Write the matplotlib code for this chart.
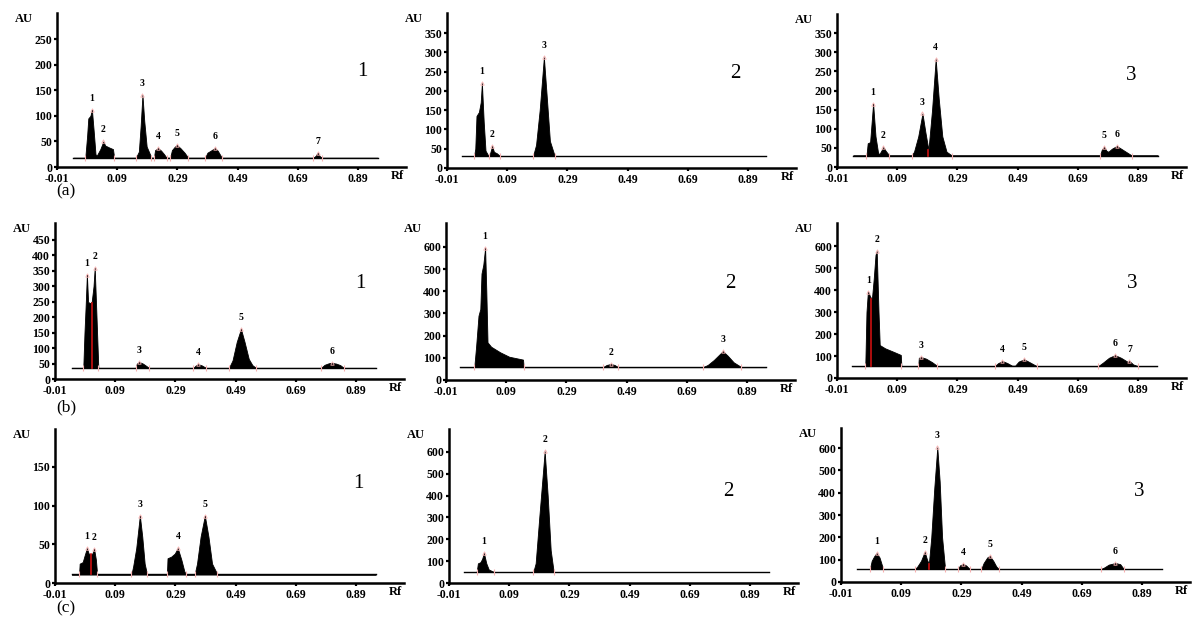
import matplotlib
matplotlib.use('Agg')
import matplotlib.pyplot as plt

plt.rcParams['font.family'] = ['Liberation Serif', 'DejaVu Serif']
plt.rcParams['font.weight'] = 'bold'

# ---------------- data ----------------
X_TICK_LABELS = ['-0.01', '0.09', '0.29', '0.49', '0.69', '0.89']
ROW_LABELS = ['(a)', '(b)', '(c)']
PANEL_NAMES = ['1', '2', '3']

# (a)1
A1_BASE = 18
A1_RANGE = [0.27, 5.33]
A1_X = [0.47, 0.50, 0.52, 0.555, 0.58, 0.61, 0.64, 0.66, 0.72, 0.77, 0.80, 0.87, 0.93, 0.95,
        1.31, 1.36, 1.39, 1.42, 1.45, 1.49, 1.57,
        1.61, 1.63, 1.68, 1.73, 1.78, 1.82,
        1.88, 1.91, 1.96, 1.99, 2.05, 2.12, 2.18,
        2.46, 2.50, 2.57, 2.62, 2.67, 2.74,
        4.26, 4.30, 4.33, 4.36, 4.40]
A1_Y = [18, 60, 95, 100, 112, 70, 25, 22, 35, 50, 42, 38, 35, 18,
        18, 30, 80, 141, 90, 40, 18,
        18, 33, 37, 32, 25, 18,
        18, 33, 40, 43, 37, 28, 18,
        18, 28, 33, 37, 32, 18,
        18, 22, 28, 22, 18]
A1_PEAK_X = [0.58, 0.77, 1.42, 1.68, 1.99, 2.62, 4.33]
A1_PEAK_Y = [112, 50, 141, 37, 43, 37, 28]
A1_SPLIT_X, A1_SPLIT_Y = [], []
A1_YTICKS = [0, 50, 100, 150, 200, 250]
A1_YMAX = 301

# (a)2
A2_BASE = 31
A2_RANGE = [0.25, 5.30]
A2_X = [0.45, 0.47, 0.49, 0.53, 0.56, 0.58, 0.61, 0.64, 0.69, 0.71, 0.75, 0.78, 0.83, 0.88,
        1.43, 1.48, 1.54, 1.61, 1.66, 1.71, 1.79]
A2_Y = [31, 50, 135, 145, 170, 220, 120, 45, 31, 35, 57, 42, 38, 31,
        31, 60, 150, 287, 180, 70, 31]
A2_PEAK_X = [0.58, 0.75, 1.61]
A2_PEAK_Y = [220, 57, 287]
A2_SPLIT_X, A2_SPLIT_Y = [], []
A2_YTICKS = [0, 50, 100, 150, 200, 250, 300, 350]
A2_YMAX = 402

# (a)3
A3_BASE = 30
A3_RANGE = [0.27, 5.33]
A3_X = [0.49, 0.51, 0.55, 0.60, 0.64, 0.68, 0.70, 0.72, 0.77, 0.81, 0.87,
        1.24, 1.28, 1.35, 1.42, 1.47, 1.52, 1.58, 1.64, 1.69, 1.75, 1.82, 1.91,
        4.37, 4.40, 4.44, 4.48, 4.51, 4.57, 4.65, 4.72, 4.80, 4.90]
A3_Y = [30, 62, 65, 166, 80, 40, 32, 38, 52, 42, 30,
        30, 40, 80, 140, 90, 45, 150, 282, 180, 80, 40, 30,
        30, 45, 52, 42, 40, 48, 55, 48, 40, 30]
A3_PEAK_X = [0.60, 0.77, 1.42, 1.64, 4.44, 4.65]
A3_PEAK_Y = [166, 52, 140, 282, 52, 55]
A3_SPLIT_X, A3_SPLIT_Y = [1.52], [45]
A3_YTICKS = [0, 50, 100, 150, 200, 250, 300, 350]
A3_YMAX = 400

# (b)1
B1_BASE = 36
B1_RANGE = [0.28, 5.33]
B1_X = [0.47, 0.49, 0.51, 0.53, 0.55, 0.58, 0.61, 0.64, 0.66, 0.69, 0.72,
        1.34, 1.36, 1.40, 1.46, 1.52, 1.56,
        2.30, 2.34, 2.38, 2.44, 2.51,
        2.89, 2.95, 3.02, 3.09, 3.15, 3.22, 3.28, 3.34,
        4.42, 4.48, 4.55, 4.60, 4.67, 4.74, 4.80]
B1_Y = [36, 150, 240, 338, 250, 245, 250, 300, 360, 200, 36,
        36, 50, 55, 50, 42, 36,
        36, 44, 48, 44, 36,
        36, 60, 120, 162, 120, 65, 45, 36,
        36, 46, 51, 52, 50, 45, 36]
B1_PEAK_X = [0.53, 0.66, 1.40, 2.38, 3.09, 4.60]
B1_PEAK_Y = [338, 360, 55, 48, 162, 52]
B1_SPLIT_X, B1_SPLIT_Y = [0.62], [245]
B1_YTICKS = [0, 50, 100, 150, 200, 250, 300, 350, 400, 450]
B1_YMAX = 505

# (b)2
B2_BASE = 58
B2_RANGE = [0.23, 5.32]
B2_X = [0.47, 0.50, 0.54, 0.57, 0.59, 0.62, 0.65, 0.67, 0.69, 0.75, 0.90, 1.05, 1.28, 1.29,
        2.61, 2.67, 2.74, 2.80, 2.86,
        4.27, 4.35, 4.45, 4.60, 4.68, 4.78, 4.91]
B2_Y = [58, 150, 290, 320, 480, 520, 595, 400, 170, 150, 125, 105, 92, 58,
        58, 68, 72, 68, 58,
        58, 68, 90, 130, 110, 80, 58]
B2_PEAK_X = [0.65, 2.74, 4.60]
B2_PEAK_Y = [595, 72, 130]
B2_SPLIT_X, B2_SPLIT_Y = [], []
B2_YTICKS = [0, 100, 200, 300, 400, 500, 600]
B2_YMAX = 708

# (b)3
B3_BASE = 54
B3_RANGE = [0.25, 5.32]
B3_X = [0.47, 0.49, 0.51, 0.52, 0.55, 0.58, 0.61, 0.64, 0.66, 0.69, 0.71, 0.80, 0.95, 1.06, 1.07,
        1.35, 1.36, 1.40, 1.48, 1.58, 1.67,
        2.62, 2.68, 2.75, 2.83, 2.91,
        2.96, 3.02, 3.11, 3.20, 3.32,
        4.34, 4.42, 4.52, 4.62, 4.72, 4.84, 4.86, 4.92, 5.00]
B3_Y = [54, 300, 380, 392, 370, 360, 450, 560, 577, 300, 150, 135, 118, 105, 54,
        54, 92, 95, 88, 72, 54,
        54, 68, 77, 68, 56,
        56, 75, 85, 72, 54,
        54, 70, 92, 104, 92, 72, 78, 62, 54]
B3_PEAK_X = [0.52, 0.66, 1.40, 2.75, 3.11, 4.62, 4.86]
B3_PEAK_Y = [392, 577, 95, 77, 85, 104, 78]
B3_SPLIT_X, B3_SPLIT_Y = [0.57], [360]
B3_YTICKS = [0, 100, 200, 300, 400, 500, 600]
B3_YMAX = 705

# (c)1
C1_BASE = 11
C1_RANGE = [0.28, 5.33]
C1_X = [0.40, 0.41, 0.46, 0.49, 0.53, 0.56, 0.59, 0.62, 0.65, 0.68, 0.70,
        1.27, 1.30, 1.35, 1.41, 1.45, 1.49, 1.53,
        1.86, 1.87, 1.93, 1.99, 2.04, 2.10, 2.15, 2.18,
        2.32, 2.36, 2.42, 2.49, 2.55, 2.61, 2.70]
C1_Y = [11, 25, 27, 35, 45, 38, 37, 38, 44, 30, 11,
        11, 22, 45, 87, 60, 25, 11,
        11, 32, 34, 38, 45, 30, 15, 11,
        11, 25, 60, 87, 60, 25, 11]
C1_PEAK_X = [0.53, 0.65, 1.41, 2.04, 2.49]
C1_PEAK_Y = [45, 44, 87, 45, 87]
C1_SPLIT_X, C1_SPLIT_Y = [0.59], [37]
C1_YTICKS = [0, 50, 100, 150]
C1_YMAX = 199

# (c)2
C2_BASE = 50
C2_RANGE = [0.25, 5.32]
C2_X = [0.46, 0.48, 0.52, 0.55, 0.58, 0.62, 0.66, 0.75,
        1.40, 1.44, 1.50, 1.59, 1.64, 1.69, 1.74]
C2_Y = [50, 90, 95, 110, 137, 90, 62, 50,
        50, 90, 300, 603, 400, 150, 50]
C2_PEAK_X = [0.58, 1.59]
C2_PEAK_Y = [137, 603]
C2_SPLIT_X, C2_SPLIT_Y = [], []
C2_YTICKS = [0, 100, 200, 300, 400, 500, 600]
C2_YMAX = 705

# (c)3
C3_BASE = 58
C3_RANGE = [0.27, 5.33]
C3_X = [0.48, 0.51, 0.55, 0.59, 0.64, 0.70,
        1.23, 1.27, 1.33, 1.39, 1.43, 1.46, 1.50, 1.55, 1.60, 1.64, 1.68, 1.73,
        1.94, 1.98, 2.03, 2.08, 2.14,
        2.33, 2.37, 2.43, 2.47, 2.53, 2.58, 2.62,
        4.32, 4.38, 4.45, 4.56, 4.64, 4.70]
C3_Y = [58, 95, 115, 130, 110, 58,
        58, 70, 95, 135, 100, 80, 200, 420, 603, 450, 200, 58,
        58, 75, 81, 74, 58,
        58, 85, 110, 117, 95, 70, 58,
        58, 66, 78, 85, 80, 58]
C3_PEAK_X = [0.59, 1.39, 1.60, 2.03, 2.47, 4.56]
C3_PEAK_Y = [130, 135, 603, 81, 117, 85]
C3_SPLIT_X, C3_SPLIT_Y = [1.46], [80]
C3_YTICKS = [0, 100, 200, 300, 400, 500, 600]
C3_YMAX = 690

# ---------------- layout (pixels in a 1200x631 canvas) ----------------
W, H = 1200, 631
AX_W = 349
# left, x-axis row, top
LAYOUT = [
    (57, 167, 13), (447, 168, 13), (837, 167, 14),
    (55, 379, 223), (446, 380, 223), (837, 378, 223),
    (55, 583, 429), (449, 583, 429), (841, 582, 428),
]
NAME_POS = [(362, 72), (735, 73), (1131, 76),
            (360, 283), (730, 283), (1132, 284),
            (358, 483), (728, 491), (1139, 492)]
ROW_LABEL_POS = [(66, 191), (66, 407), (66, 608)]

panels = [
    (A1_BASE, A1_RANGE, A1_X, A1_Y, A1_PEAK_X, A1_PEAK_Y, A1_SPLIT_X, A1_SPLIT_Y, A1_YTICKS, A1_YMAX),
    (A2_BASE, A2_RANGE, A2_X, A2_Y, A2_PEAK_X, A2_PEAK_Y, A2_SPLIT_X, A2_SPLIT_Y, A2_YTICKS, A2_YMAX),
    (A3_BASE, A3_RANGE, A3_X, A3_Y, A3_PEAK_X, A3_PEAK_Y, A3_SPLIT_X, A3_SPLIT_Y, A3_YTICKS, A3_YMAX),
    (B1_BASE, B1_RANGE, B1_X, B1_Y, B1_PEAK_X, B1_PEAK_Y, B1_SPLIT_X, B1_SPLIT_Y, B1_YTICKS, B1_YMAX),
    (B2_BASE, B2_RANGE, B2_X, B2_Y, B2_PEAK_X, B2_PEAK_Y, B2_SPLIT_X, B2_SPLIT_Y, B2_YTICKS, B2_YMAX),
    (B3_BASE, B3_RANGE, B3_X, B3_Y, B3_PEAK_X, B3_PEAK_Y, B3_SPLIT_X, B3_SPLIT_Y, B3_YTICKS, B3_YMAX),
    (C1_BASE, C1_RANGE, C1_X, C1_Y, C1_PEAK_X, C1_PEAK_Y, C1_SPLIT_X, C1_SPLIT_Y, C1_YTICKS, C1_YMAX),
    (C2_BASE, C2_RANGE, C2_X, C2_Y, C2_PEAK_X, C2_PEAK_Y, C2_SPLIT_X, C2_SPLIT_Y, C2_YTICKS, C2_YMAX),
    (C3_BASE, C3_RANGE, C3_X, C3_Y, C3_PEAK_X, C3_PEAK_Y, C3_SPLIT_X, C3_SPLIT_Y, C3_YTICKS, C3_YMAX),
]

fig = plt.figure(figsize=(W / 100, H / 100), dpi=100)
fig.patch.set_facecolor('white')

PINK = '#f4b0b0'

for i, (base, rng, xs, ys, pxs, pys, sxs, sys_, yticks, ymax) in enumerate(panels):
    L, B, T = LAYOUT[i]
    ax = fig.add_axes([L / W, 1 - B / H, AX_W / W, (B - T) / H])
    fx = [rng[0]] + xs + [rng[1]]
    fy = [base] + ys + [base]
    ax.fill_between(fx, base, fy, color='black', edgecolor='black', linewidth=0.6, zorder=2)
    ax.plot(rng, [base, base], color='black', lw=1.0, zorder=3)
    # peak boundary markers on the baseline
    bx = [x for x, y in zip(xs, ys) if y == base]
    ax.plot(bx, [base] * len(bx), ls='none', marker='|', ms=4, mew=0.8, color=PINK, zorder=4)
    # red splitting lines
    for sx, sy in zip(sxs, sys_):
        ax.plot([sx, sx], [base, sy], color='#cc1010', lw=1.2, zorder=4)
    # apex markers and peak numbers
    ax.plot(pxs, pys, ls='none', marker='^', ms=2.5, mfc='none', mec=PINK, mew=0.6, zorder=4)
    for k, (px, py) in enumerate(zip(pxs, pys)):
        ax.annotate(str(k + 1), (px, py), xytext=(0, 5), textcoords='offset points',
                    ha='center', va='bottom', fontsize=7, fontweight='bold')
    ax.set_xlim(0, 5.8)
    ax.set_ylim(0, ymax)
    ax.set_xticks(range(len(X_TICK_LABELS)))
    ax.set_xticklabels(X_TICK_LABELS)
    ax.set_yticks(yticks)
    ax.set_yticklabels([str(v) for v in yticks])
    for s in ['top', 'right']:
        ax.spines[s].set_visible(False)
    for s in ['left', 'bottom']:
        ax.spines[s].set_linewidth(1.8)
    ax.tick_params(axis='both', direction='out', length=2.5, width=1.6, labelsize=8.5, pad=1)
    ax.tick_params(axis='x', pad=2)
    ax.set_facecolor('none')
    # axis titles
    fig.text((L - 33) / W, 1 - (T + 6) / H, 'AU', ha='center', va='center',
             fontsize=9, fontweight='bold')
    fig.text((L + 340) / W, 1 - (B + 9) / H, 'Rf', ha='center', va='center',
             fontsize=9, fontweight='bold')
    nx, ny = NAME_POS[i]
    fig.text(nx / W, 1 - ny / H, PANEL_NAMES[i % 3], ha='center', va='center',
             fontsize=15, fontweight='normal')

for lab, (rx, ry) in zip(ROW_LABELS, ROW_LABEL_POS):
    fig.text(rx / W, 1 - ry / H, lab, ha='center', va='center', fontsize=12.5, fontweight='normal')

fig.savefig('out.png', dpi=100)
